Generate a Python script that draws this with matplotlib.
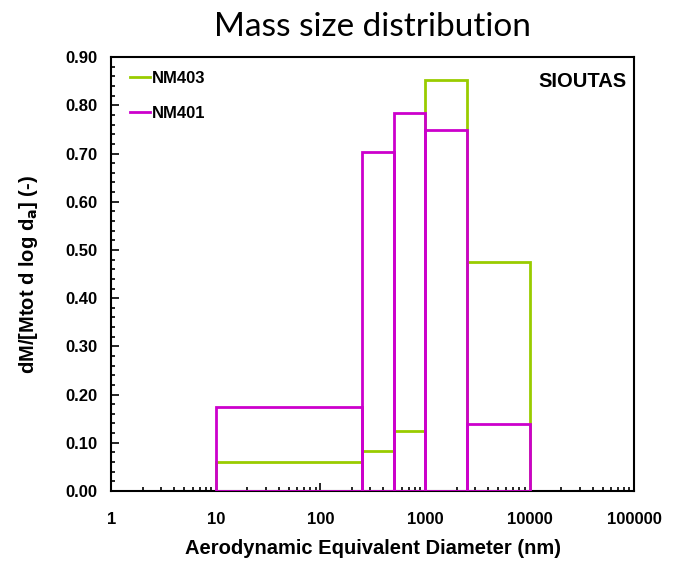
import numpy as np
import matplotlib
matplotlib.use('Agg')
import matplotlib.pyplot as plt
from matplotlib.ticker import FixedLocator, MultipleLocator, LogLocator, NullFormatter

# bin edges (nm) and normalised mass per bin
edges = [10, 250, 500, 1000, 2500, 10000]
nm403 = [0.060, 0.082, 0.124, 0.852, 0.476]
nm401 = [0.174, 0.703, 0.784, 0.748, 0.139]

plt.rcParams['font.family'] = ['Liberation Sans', 'DejaVu Sans']
plt.rcParams['font.weight'] = 'bold'

fig = plt.figure(figsize=(6.74, 5.61), dpi=100)
ax = fig.add_axes([0.165, 0.125, 0.776, 0.773])

lefts = np.array(edges[:-1])
widths = np.diff(edges)
ax.bar(lefts, nm403, width=widths, align='edge', fill=False,
       edgecolor='#99cc00', linewidth=2.0, zorder=2)
ax.bar(lefts, nm401, width=widths, align='edge', fill=False,
       edgecolor='#cc00cc', linewidth=2.0, zorder=3)
ax.plot([], [], color='#99cc00', lw=2.0, label='NM403')
ax.plot([], [], color='#cc00cc', lw=2.0, label='NM401')

ax.set_xscale('log')
ax.set_xlim(1, 100000)
ax.set_ylim(0, 0.9)
ax.xaxis.set_major_locator(FixedLocator([1, 10, 100, 1000, 10000, 100000]))
ax.set_xticklabels(['1', '10', '100', '1000', '10000', '100000'])
ax.xaxis.set_minor_locator(LogLocator(base=10, subs=np.arange(2, 10)))
ax.xaxis.set_minor_formatter(NullFormatter())
ax.yaxis.set_major_locator(MultipleLocator(0.1))
ax.yaxis.set_minor_locator(MultipleLocator(0.02))
ax.yaxis.set_major_formatter(plt.FormatStrFormatter('%.2f'))

ax.tick_params(which='both', direction='in', labelsize=12, width=1.2)
ax.tick_params(which='major', length=6)
ax.tick_params(which='minor', length=3)
ax.tick_params(axis='x', pad=15)
ax.tick_params(axis='y', pad=10)
for s in ax.spines.values():
    s.set_linewidth(1.5)

ax.set_xlabel('Aerodynamic Equivalent Diameter (nm)', fontsize=14.5, fontweight='bold', labelpad=9)
ax.set_ylabel(r'dM/[Mtot d log d$_\mathbf{a}$] (-)', fontsize=14.5, fontweight='bold', labelpad=18)
ax.text(0.985, 0.965, 'SIOUTAS', transform=ax.transAxes, ha='right', va='top',
        fontsize=14.5, fontweight='bold')
ax.legend(loc='upper left', bbox_to_anchor=(0.0235, 0.984), frameon=False,
          handlelength=1.2, handletextpad=0.1, fontsize=12, borderaxespad=0,
          labelspacing=1.2)

fig.suptitle('Mass size distribution', fontsize=24, fontweight='normal',
             family='Lato', x=0.553, y=0.978)

plt.savefig('out.png', dpi=100)
